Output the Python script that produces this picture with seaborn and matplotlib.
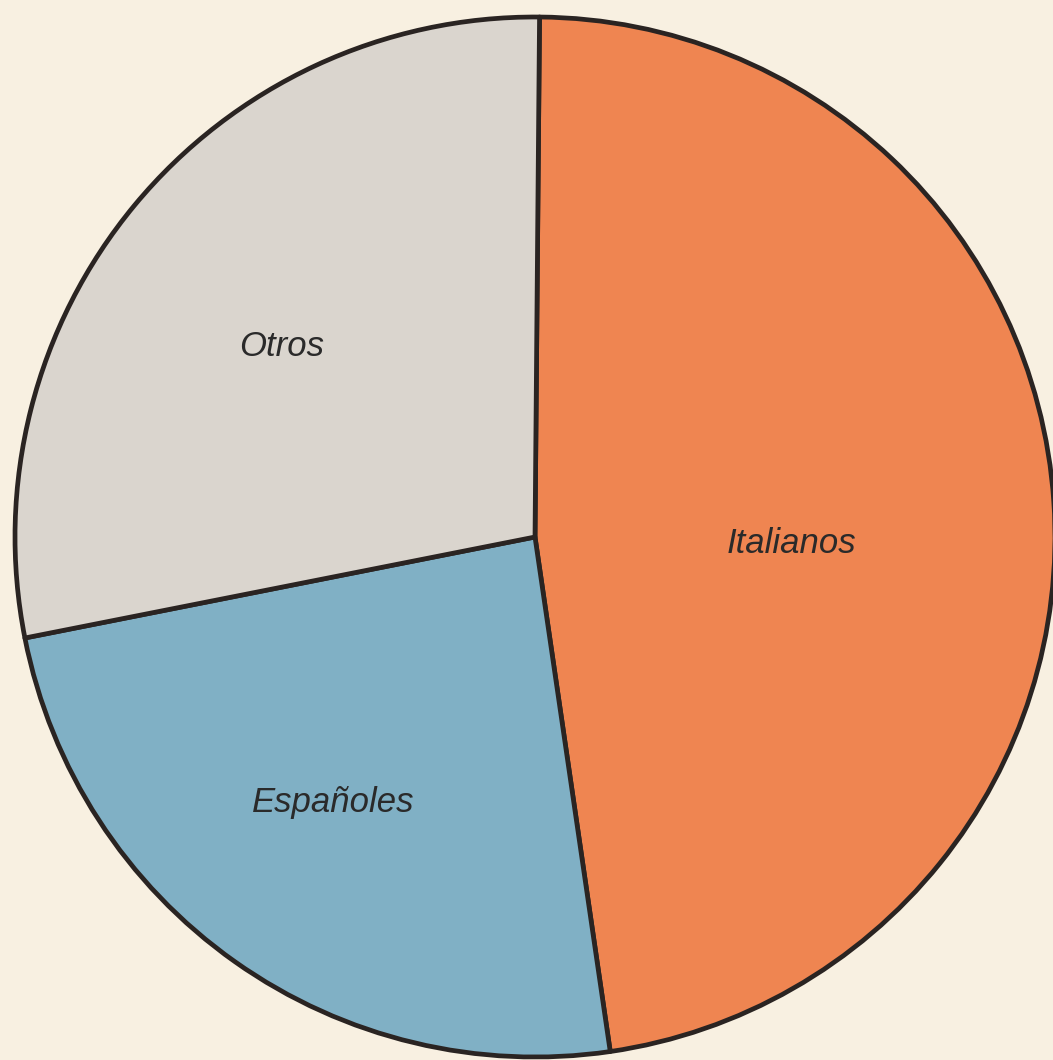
import numpy as np
import matplotlib
matplotlib.use("Agg")
import matplotlib.pyplot as plt
import seaborn as sns

# data
groups = ["Italianos", "Españoles", "Otros"]
shares = [47.55, 24.2, 28.25]
slice_colors = ["#EF8551", "#80B0C5", "#DAD5CE"]

# label placement (data units, pie radius = 1)
label_pos = {"Italianos": (0.494, -0.012),
             "Españoles": (-0.388, -0.510),
             "Otros": (-0.487, 0.367)}

sns.set_theme(style="white")
plt.rcParams['font.family'] = ['Liberation Sans', 'DejaVu Sans']

bg = "#F8F0E1"
fig = plt.figure(figsize=(10.53, 10.60), dpi=100, facecolor=bg)
ax = fig.add_axes([0, 0, 1, 1])
ax.set_facecolor(bg)

wedges, _ = ax.pie(
    shares,
    colors=sns.color_palette(slice_colors),
    startangle=89.5,
    counterclock=False,
    radius=1.0,
    wedgeprops={'edgecolor': '#2A2422', 'linewidth': 3.4, 'joinstyle': 'round'},
)

for name in groups:
    x, y = label_pos[name]
    ax.text(x, y, name, ha='center', va='center', fontsize=25,
            style='italic', color='#2A2A2A')

# circle centre at (535, 537) px, radius 520 px
ax.set_xlim(-535 / 520, (1053 - 535) / 520)
ax.set_ylim(-(1060 - 537) / 520, 537 / 520)
ax.set_aspect('auto')
ax.axis('off')

fig.savefig("out.png", dpi=100, facecolor=bg)
